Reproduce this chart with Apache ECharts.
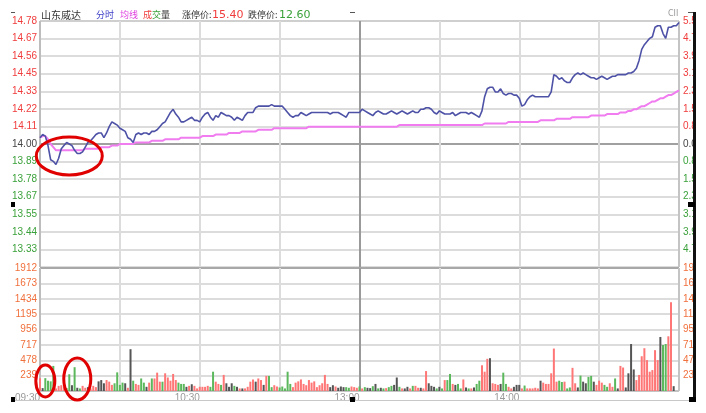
<!DOCTYPE html>
<html><head><meta charset="utf-8">
<script src="https://cdn.jsdelivr.net/npm/echarts@6/dist/echarts.min.js"></script>
<style>html,body{margin:0;padding:0;background:#fff;}#c{width:706px;height:413px;}</style>
</head><body><div id="c"></div>
<script>
// ---- data ----
const prices = [
14.04,14.06,14.05,13.99,13.90,13.89,13.87,13.91,13.97,13.99,
14.01,14.00,13.99,13.96,13.94,13.94,13.95,13.98,14.01,14.02,
14.04,14.06,14.07,14.07,14.04,14.07,14.11,14.14,14.13,14.12,
14.10,14.09,14.08,14.04,14.03,14.01,14.06,14.07,14.06,14.07,
14.07,14.06,14.08,14.08,14.09,14.11,14.13,14.14,14.17,14.20,
14.22,14.19,14.17,14.14,14.14,14.15,14.16,14.17,14.15,14.15,
14.14,14.17,14.19,14.20,14.17,14.15,14.18,14.17,14.20,14.19,
14.18,14.18,14.17,14.15,14.17,14.16,14.15,14.18,14.20,14.20,
14.20,14.23,14.24,14.24,14.24,14.24,14.24,14.25,14.24,14.24,
14.24,14.24,14.22,14.20,14.18,14.17,14.18,14.18,14.20,14.19,
14.18,14.19,14.20,14.20,14.20,14.20,14.20,14.20,14.20,14.19,
14.20,14.20,14.20,14.19,14.18,14.17,14.20,14.20,14.20,14.20,
14.20,14.22,14.21,14.20,14.19,14.18,14.20,14.21,14.20,14.19,
14.19,14.20,14.21,14.20,14.19,14.20,14.21,14.20,14.19,14.20,
14.21,14.20,14.20,14.22,14.22,14.23,14.23,14.22,14.20,14.19,
14.21,14.20,14.19,14.19,14.19,14.20,14.18,14.19,14.20,14.20,
14.20,14.19,14.20,14.19,14.18,14.17,14.21,14.30,14.35,14.36,
14.36,14.33,14.33,14.35,14.32,14.31,14.32,14.32,14.31,14.31,
14.29,14.24,14.25,14.28,14.30,14.31,14.30,14.30,14.30,14.30,
14.30,14.30,14.33,14.44,14.43,14.41,14.42,14.40,14.39,14.39,
14.42,14.44,14.45,14.44,14.45,14.44,14.43,14.42,14.42,14.41,
14.42,14.43,14.42,14.41,14.42,14.43,14.43,14.44,14.44,14.44,
14.44,14.45,14.45,14.46,14.48,14.53,14.60,14.63,14.65,14.67,
14.68,14.74,14.75,14.75,14.70,14.67,14.74,14.74,14.75,14.75,
14.77];
const avgPrices = [
14.04,14.05,14.05,14.03,14.00,13.98,13.96,13.96,13.96,13.96,
13.96,13.96,13.96,13.96,13.96,13.96,13.96,13.97,13.97,13.97,
13.97,13.97,13.97,13.98,13.98,13.98,13.98,13.99,13.99,13.99,
14.00,14.00,14.00,14.00,14.00,14.00,14.01,14.01,14.01,14.01,
14.01,14.01,14.02,14.02,14.02,14.02,14.02,14.03,14.03,14.03,
14.03,14.03,14.03,14.04,14.04,14.04,14.04,14.04,14.04,14.04,
14.04,14.05,14.05,14.05,14.05,14.05,14.06,14.06,14.06,14.06,
14.06,14.07,14.07,14.07,14.07,14.07,14.08,14.08,14.08,14.08,
14.08,14.08,14.09,14.09,14.09,14.09,14.09,14.09,14.10,14.10,
14.10,14.10,14.10,14.10,14.10,14.10,14.10,14.10,14.10,14.10,
14.10,14.11,14.11,14.11,14.11,14.11,14.11,14.11,14.11,14.11,
14.11,14.11,14.11,14.11,14.11,14.11,14.11,14.11,14.11,14.11,
14.11,14.11,14.11,14.11,14.11,14.11,14.11,14.11,14.11,14.11,
14.11,14.11,14.11,14.11,14.11,14.12,14.12,14.12,14.12,14.12,
14.12,14.12,14.12,14.12,14.12,14.12,14.12,14.12,14.12,14.12,
14.12,14.12,14.12,14.12,14.12,14.12,14.12,14.12,14.12,14.12,
14.12,14.12,14.12,14.12,14.12,14.12,14.12,14.13,14.13,14.13,
14.13,14.13,14.13,14.13,14.13,14.13,14.14,14.14,14.14,14.14,
14.14,14.14,14.14,14.14,14.14,14.14,14.14,14.14,14.15,14.15,
14.15,14.15,14.15,14.15,14.16,14.16,14.16,14.16,14.16,14.16,
14.17,14.17,14.17,14.17,14.17,14.17,14.17,14.18,14.18,14.18,
14.18,14.18,14.18,14.19,14.19,14.19,14.19,14.19,14.20,14.20,
14.20,14.21,14.21,14.22,14.22,14.23,14.24,14.24,14.25,14.26,
14.27,14.27,14.28,14.29,14.29,14.30,14.31,14.31,14.32,14.33,
14.34];
const volumes = [
200,45,200,160,150,390,40,80,90,60,
45,260,90,370,50,40,80,50,60,40,
80,60,150,170,120,170,145,95,120,290,
95,130,120,50,650,160,110,95,195,130,
65,130,195,195,285,145,145,275,210,160,
265,170,130,110,110,65,80,105,80,40,
65,65,65,80,65,300,145,110,95,250,
120,65,120,80,65,40,40,40,65,145,
180,145,195,170,95,235,235,60,90,70,
55,70,40,300,110,60,130,150,180,110,
90,170,130,150,60,90,120,250,110,60,
90,70,50,70,60,60,50,70,60,50,
70,40,60,50,45,75,110,40,50,40,
45,60,80,95,210,65,40,40,65,40,
80,80,50,50,40,310,120,80,65,40,
65,40,170,170,265,110,95,110,40,180,
55,40,40,55,110,160,400,300,500,510,
120,110,95,110,285,110,65,40,65,95,
95,40,85,40,40,40,50,40,160,130,
110,110,275,660,145,160,140,145,40,55,
360,120,55,240,145,120,220,235,145,95,
160,130,95,65,120,65,195,40,390,365,
55,275,730,335,170,250,540,665,480,300,
325,635,480,840,715,730,850,1380,75,0,
0];
// 1 = up (red), -1 = down (green), 0 = flat (grey)
const directions = [
1,0,-1,-1,-1,-1,1,1,1,1,
-1,-1,0,-1,0,-1,1,1,0,1,
1,1,0,0,0,1,1,1,-1,-1,
-1,-1,0,1,0,-1,1,1,-1,-1,
0,1,-1,1,1,1,-1,1,1,1,
1,1,-1,-1,-1,0,1,0,1,1,
1,1,1,1,-1,-1,1,1,-1,1,
0,0,0,-1,0,1,0,1,1,1,
1,0,1,1,0,1,-1,-1,1,1,
-1,-1,-1,-1,-1,1,1,1,1,1,
1,1,1,1,1,1,1,1,1,0,
0,1,0,0,0,-1,-1,1,1,1,
-1,1,-1,0,0,-1,0,-1,0,-1,
1,-1,-1,0,0,-1,1,0,0,1,
-1,1,1,0,1,1,0,0,0,-1,
0,-1,1,-1,-1,1,0,-1,-1,1,
0,-1,1,0,-1,-1,1,1,1,0,
1,1,1,0,-1,-1,1,1,0,0,
0,1,-1,1,1,1,1,1,0,1,
1,1,1,1,1,-1,-1,1,-1,-1,
1,1,0,-1,0,0,-1,-1,0,1,
1,1,-1,-1,1,1,-1,0,1,1,
0,0,0,0,1,1,1,1,1,1,
1,1,1,0,-1,-1,1,1,0,0,
0];
const preClose = 14.00;
const priceMax = 14.78;
const priceMin = 13.22;
const volMax = 1912;
const volStep = 239;
const xTickIndex = [0, 60, 120, 180];
const xTickLabels = ['09:30', '10:30', '13:00', '14:00'];
const stockName = '山东威达';
const limitUp = '15.40';
const limitDown = '12.60';

// categories: one per minute (morning 09:30-11:30, afternoon 13:01-15:00)
const times = [];
for (let m = 0; m <= 120; m++) { const t = 9*60+30+m; times.push(String(Math.floor(t/60)).padStart(2,'0')+':'+String(t%60).padStart(2,'0')); }
for (let m = 1; m <= 120; m++) { const t = 13*60+m; times.push(String(Math.floor(t/60)).padStart(2,'0')+':'+String(t%60).padStart(2,'0')); }

// ---- styles ----
const RED = '#f03c3c', GREEN = '#3aa13a', DARK = '#444';
const GL = '#dcdcdc';
const stepPrice = (priceMax - preClose) / 7;

const chart = echarts.init(document.getElementById('c'), null, {renderer: 'canvas'});
const xSplitColors = ['#bdbdbd', GL, GL, GL, '#9a9a9a', GL, GL, GL, '#c4c4c4'];
const ySplitColors = [GL, GL, GL, GL, GL, GL, GL, '#a0a0a0', GL, GL, GL, GL, GL, GL, '#cfcfcf'];
const vSplitColors = ['#c4c4c4', GL, GL, GL, GL, GL, GL, GL, '#a8a8a8'];
const labelFont = 'Liberation Sans';

const option = {
  animation: false,
  backgroundColor: '#fff',
  grid: [
    {left: 40, right: 27, top: 21, height: 246, containLabel: false, outerBoundsMode: 'none'},
    {left: 40, right: 27, top: 268, height: 123, containLabel: false, outerBoundsMode: 'none'}
  ],
  xAxis: [
    {type: 'category', gridIndex: 0, data: times, boundaryGap: false,
     axisLine: {show: false}, axisTick: {show: false}, axisLabel: {show: false},
     splitLine: {show: true, interval: (i) => i % 30 === 0, lineStyle: {color: xSplitColors, width: 2}}},
    {type: 'category', gridIndex: 1, data: times, boundaryGap: false,
     axisLine: {show: false}, axisTick: {show: false},
     axisLabel: {show: true, interval: (i) => xTickIndex.indexOf(i) >= 0,
       formatter: (v, i) => { const k = xTickIndex.indexOf(i); return k >= 0 ? xTickLabels[k] : ''; },
       align: 'right', color: '#9a9a9a', fontSize: 10, margin: 2, fontFamily: labelFont},
     splitLine: {show: true, interval: (i) => i % 30 === 0, lineStyle: {color: xSplitColors, width: 2}}}
  ],
  yAxis: [
    {type: 'value', gridIndex: 0, min: priceMin, max: priceMax, show: false, splitLine: {show: false}},
    {type: 'value', gridIndex: 0, min: -7, max: 7, interval: 1, position: 'left',
     axisLine: {show: false}, axisTick: {show: false},
     axisLabel: {margin: 3, fontSize: 10, fontFamily: labelFont,
       formatter: (v) => v === -7 ? '' : (preClose + v * stepPrice).toFixed(2),
       color: (v) => v > 0 ? RED : (v < 0 ? GREEN : DARK)},
     splitLine: {show: true, lineStyle: {color: ySplitColors, width: 2}}},
    {type: 'value', gridIndex: 0, min: -7, max: 7, interval: 1, position: 'right',
     axisLine: {show: false}, axisTick: {show: false}, splitLine: {show: false},
     axisLabel: {margin: 4, fontSize: 10, fontFamily: labelFont,
       formatter: (v) => v === -7 ? '' : Math.abs(v * stepPrice / preClose * 100).toFixed(2) + '%',
       color: (v) => v > 0 ? RED : (v < 0 ? GREEN : DARK)}},
    {type: 'value', gridIndex: 1, min: 0, max: volMax, interval: volStep, position: 'left',
     axisLine: {show: false}, axisTick: {show: false},
     axisLabel: {margin: 3, fontSize: 10, fontFamily: labelFont, color: '#f0703c',
       formatter: (v) => v === 0 ? '' : String(v)},
     splitLine: {show: true, lineStyle: {color: vSplitColors, width: 2}}},
    {type: 'value', gridIndex: 1, min: 0, max: volMax, interval: volStep, position: 'right',
     axisLine: {show: false}, axisTick: {show: false}, splitLine: {show: false},
     axisLabel: {margin: 4, fontSize: 10, fontFamily: labelFont, color: '#f0703c',
       formatter: (v) => v === 0 ? '' : String(v)}}
  ],
  series: [
    {type: 'line', name: '均线', xAxisIndex: 0, yAxisIndex: 0, data: avgPrices, symbol: 'none',
     lineStyle: {color: '#f07cf0', width: 2}, z: 3},
    {type: 'line', name: '分时', xAxisIndex: 0, yAxisIndex: 0, data: prices, symbol: 'none',
     lineStyle: {color: '#4e52a6', width: 1.6}, z: 4},
    {type: 'bar', name: '成交量', xAxisIndex: 1, yAxisIndex: 3, data: volumes, barWidth: 2,
     itemStyle: {color: (p) => directions[p.dataIndex] > 0 ? '#ff7676' : (directions[p.dataIndex] < 0 ? '#5cb85c' : '#555')}}
  ]
};
chart.setOption(option);

// ---- decorations / annotations ----
const annotations = [
  {axes: {xAxisIndex: 0, yAxisIndex: 0}, at: [10.5, 13.924], rx: 33, ry: 19},
  {axes: {xAxisIndex: 1, yAxisIndex: 3}, at: [2, 155], rx: 9.5, ry: 16},
  {axes: {xAxisIndex: 1, yAxisIndex: 3}, at: [13.6, 186], rx: 13.5, ry: 21}
];
const g = [];
annotations.forEach(a => {
  const p = chart.convertToPixel(a.axes, a.at);
  g.push({type: 'ellipse', z: 120, shape: {cx: p[0], cy: p[1], rx: a.rx, ry: a.ry},
          style: {fill: 'none', stroke: '#e00000', lineWidth: 3}});
});
const cjk = 'Noto Sans CJK SC';
const hdr = (x, text, color, font) => g.push({type: 'text', z: 120, x: x, y: 15,
  style: {text: text, fill: color, font: font || ('9px "' + cjk + '"'), textVerticalAlign: 'middle'}});
hdr(41, stockName, '#333', '10px "' + cjk + '"');
hdr(96, '分时', '#3c3cc8');
hdr(120, '均线', '#e040e0');
hdr(143, '成', RED);
hdr(152, '交', GREEN);
hdr(161, '量', '#333');
hdr(182, '涨停价:', '#333');
hdr(212, limitUp, RED, '11px "DejaVu Sans"');
hdr(248, '跌停价:', '#333');
hdr(279, limitDown, GREEN, '11px "DejaVu Sans"');
g.push({type: 'text', z: 120, x: 668, y: 14, style: {text: 'CII', fill: '#999', font: '8px "DejaVu Sans"', textVerticalAlign: 'middle'}});
// clip region right of black bar
g.push({type: 'rect', z: 110, shape: {x: 695, y: 0, width: 11, height: 413}, style: {fill: '#fff'}});
g.push({type: 'rect', z: 111, shape: {x: 693, y: 12, width: 3, height: 388}, style: {fill: '#111'}});
// small dashes at top
[[11, 12, 4], [350, 12, 5], [688, 12, 5]].forEach(d => g.push({type: 'rect', z: 111, shape: {x: d[0], y: d[1], width: d[2], height: 1}, style: {fill: '#555'}}));
// small black squares
[[11, 202, 4, 5], [11, 397, 4, 5], [350, 397, 5, 5], [688, 202, 7, 5], [689, 397, 7, 5]].forEach(s =>
  g.push({type: 'rect', z: 111, shape: {x: s[0], y: s[1], width: s[2], height: s[3]}, style: {fill: '#000'}}));
// lower frame line
g.push({type: 'rect', z: 1, shape: {x: 12, y: 400, width: 681, height: 1}, style: {fill: '#c8c8c8'}});
chart.setOption({graphic: g});
</script>
</body></html>
